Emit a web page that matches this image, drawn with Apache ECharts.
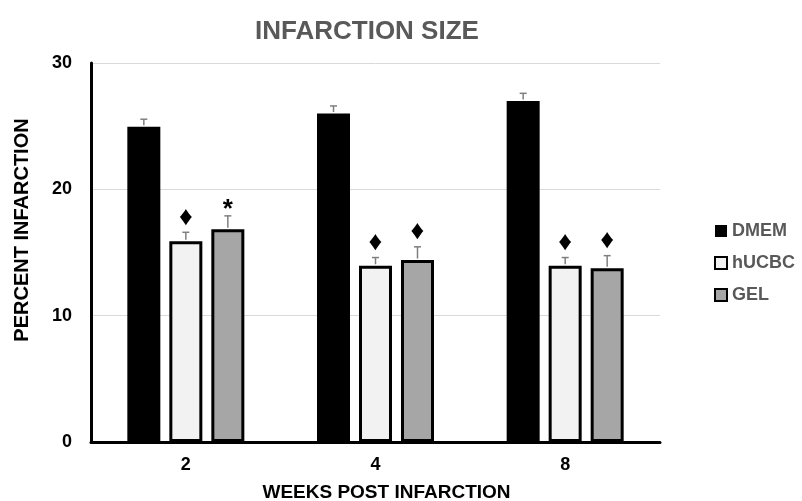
<!DOCTYPE html>
<html>
<head>
<meta charset="utf-8">
<script src="https://cdn.jsdelivr.net/npm/echarts@6/dist/echarts.min.js"></script>
<style>html,body{margin:0;padding:0;background:#fff;overflow:hidden;}#c{width:802px;height:501px;}</style>
</head>
<body>
<div id="c"></div>
<script>
var categories = ['2', '4', '8'];
var seriesNames = ['DMEM', 'hUCBC', 'GEL'];
var dmem = [24.95, 26.0, 27.0];
var dmemErr = [0.6, 0.6, 0.6];
var hucbc = [15.9, 13.95, 13.95];
var hucbcErr = [0.7, 0.65, 0.65];
var gel = [16.85, 14.4, 13.75];
var gelErr = [1.05, 1.05, 1.0];
var dmemMarks = ['', '', ''];
var hucbcMarks = ['\u2666', '\u2666', '\u2666'];
var gelMarks = ['*', '\u2666', '\u2666'];
var yMin = 0, yMax = 30, yStep = 10;

var FONT = '"Liberation Sans", Arial, sans-serif';
var BW = 33, OFF = 42;

function errSeries(vals, errs, marks, offset) {
  var data = vals.map(function (v, i) { return [i, v, errs[i], marks[i]]; });
  return {
    type: 'custom',
    z: 5,
    silent: true,
    data: data,
    encode: { x: 0, y: 1 },
    renderItem: function (params, api) {
      var i = api.value(0), v = api.value(1), e = api.value(2);
      var m = marks[params.dataIndex];
      var p0 = api.coord([i, v]);
      var p1 = api.coord([i, v + e]);
      var x = p0[0] + offset;
      var cap = 3.5;
      var children = [
        { type: 'line', shape: { x1: x, y1: p0[1] - 1.5, x2: x, y2: p1[1] }, style: { stroke: '#7f7f7f', lineWidth: 1.5 } },
        { type: 'line', shape: { x1: x - cap, y1: p1[1], x2: x + cap, y2: p1[1] }, style: { stroke: '#7f7f7f', lineWidth: 1.5 } }
      ];
      if (m) {
        var isStar = m === '*';
        children.push({
          type: 'text',
          style: {
            text: m, x: x, y: p1[1] - (isStar ? 6 : 15),
            align: 'center', verticalAlign: 'middle',
            fill: '#000', font: 'bold ' + (isStar ? 26 : 27) + 'px ' + FONT
          }
        });
      }
      return { type: 'group', children: children };
    }
  };
}

var chart = echarts.init(document.getElementById('c'));
chart.setOption({
  backgroundColor: '#fff',
  animation: false,
  title: {
    text: 'INFARCTION SIZE',
    left: 250, top: 14,
    textStyle: { fontFamily: FONT, fontSize: 26, fontWeight: 'bold', color: '#595959' }
  },
  legend: {
    orient: 'vertical',
    left: 709, top: 217,
    icon: 'rect',
    itemWidth: 12, itemHeight: 12, itemGap: 14, itemTextGap: 6,
    data: seriesNames,
    textStyle: { fontFamily: FONT, fontSize: 18, fontWeight: 'bold', color: '#595959' }
  },
  graphic: [{
    type: 'text', x: 22, y: 230, rotation: Math.PI / 2,
    style: { text: 'PERCENT INFARCTION', align: 'center', verticalAlign: 'middle',
      fill: '#000', font: 'bold 20px ' + FONT }
  }],
  grid: { left: 91, right: 142, top: 63, bottom: 59, containLabel: false, outerBoundsMode: 'none' },
  xAxis: {
    type: 'category',
    data: categories,
    name: 'WEEKS POST INFARCTION',
    nameLocation: 'middle', nameGap: 41,
    nameTextStyle: { fontFamily: FONT, fontSize: 19, fontWeight: 'bold', color: '#000', padding: [0, 0, 0, 22] },
    axisLine: { show: true, lineStyle: { color: '#000', width: 3 } },
    axisTick: { show: false },
    axisLabel: { margin: 14, fontFamily: FONT, fontSize: 18, fontWeight: 'bold', color: '#000' }
  },
  yAxis: {
    type: 'value',
    min: yMin, max: yMax, interval: yStep,
    axisLine: { show: true, lineStyle: { color: '#000', width: 3 } },
    axisTick: { show: false },
    axisLabel: { margin: 19, fontFamily: FONT, fontSize: 18, fontWeight: 'bold', color: '#000' },
    splitLine: { show: true, lineStyle: { color: '#d9d9d9', width: 1 } }
  },
  series: [
    { name: seriesNames[0], type: 'bar', data: dmem, barWidth: BW, barGap: ((OFF - BW) / BW * 100) + '%',
      itemStyle: { color: '#000', borderColor: '#000', borderWidth: 0 } },
    { name: seriesNames[1], type: 'bar', data: hucbc, barWidth: BW,
      itemStyle: { color: '#f2f2f2', borderColor: '#000', borderWidth: 3 } },
    { name: seriesNames[2], type: 'bar', data: gel, barWidth: BW,
      itemStyle: { color: '#a6a6a6', borderColor: '#000', borderWidth: 3 } },
    errSeries(dmem, dmemErr, dmemMarks, -OFF),
    errSeries(hucbc, hucbcErr, hucbcMarks, 0),
    errSeries(gel, gelErr, gelMarks, OFF)
  ]
});
</script>
</body>
</html>
